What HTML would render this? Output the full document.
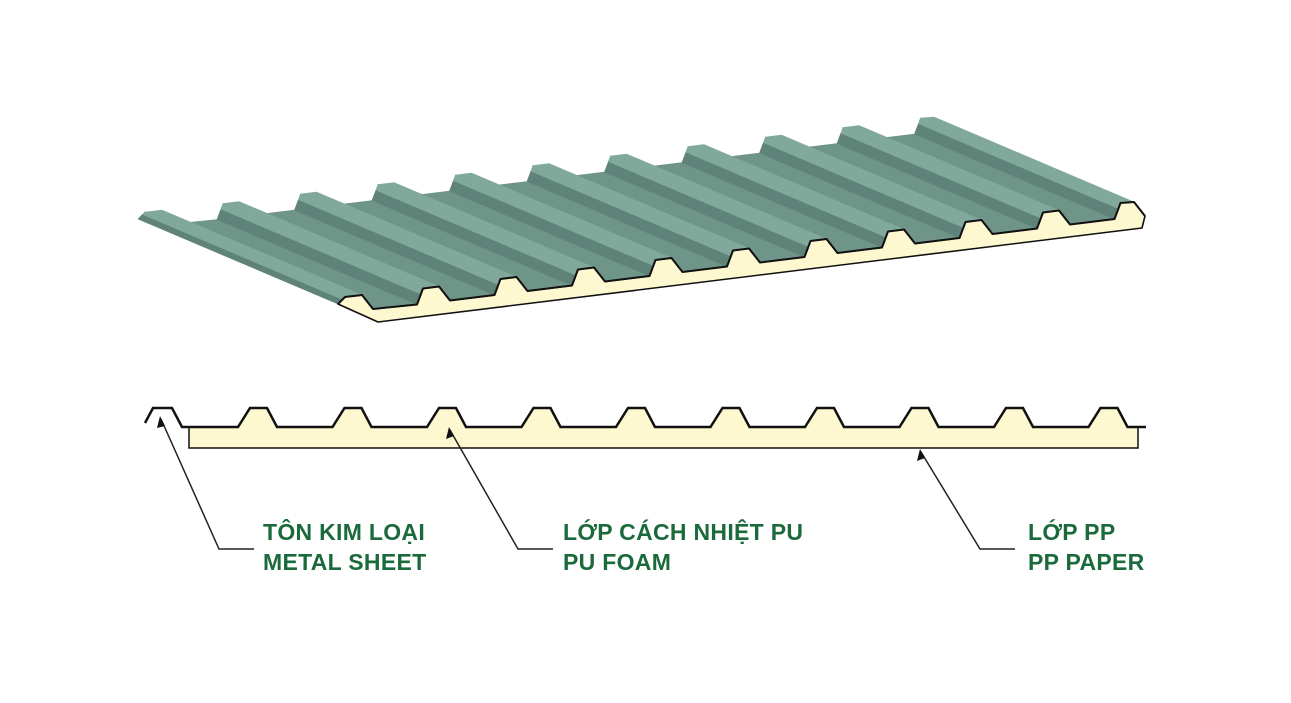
<!DOCTYPE html>
<html><head><meta charset="utf-8">
<style>
html,body{margin:0;padding:0;background:#fff;}
body{width:1291px;height:703px;position:relative;overflow:hidden;}
svg{position:absolute;left:0;top:0;}
.lbl{position:absolute;font-family:"Liberation Sans","DejaVu Sans",sans-serif;font-weight:bold;color:#1b6a3b;font-size:23px;line-height:30px;letter-spacing:0.3px;white-space:nowrap;}
</style></head>
<body>
<svg id="s" width="1291" height="703" viewBox="0 0 1291 703" xmlns="http://www.w3.org/2000/svg">
<g id="sheet"></g>
<polygon id="foam2" fill="#fdf8cf" stroke="#111" stroke-width="1.5" points=""/>
<polyline id="prof2" fill="none" stroke="#111" stroke-width="2.5" stroke-linejoin="miter" points=""/>
<g stroke="#222" stroke-width="1.5" fill="none">
<polyline points="161,419 219,549 254,549"/>
<polyline points="450,430 518,549 553,549"/>
<polyline points="921,452 980,549 1015,549"/>
</g>
<g fill="#111">
<polygon points="160,416 157,428 165,426"/>
<polygon points="449,427 446,439 454,436"/>
<polygon points="920,449 917,461 925,458"/>
</g>
</svg>
<div class="lbl" style="left:263px;top:517px;">TÔN KIM LOẠI<br>METAL SHEET</div>
<div class="lbl" style="left:563px;top:517px;">LỚP CÁCH NHIỆT PU<br>PU FOAM</div>
<div class="lbl" style="left:1028px;top:517px;">LỚP PP<br>PP PAPER</div>
<script>
(function(){
var NS="http://www.w3.org/2000/svg";
var g=document.getElementById("sheet");
var D=[200,85];
var LIGHT="#80a99b",DARK="#5f8379",MED="#6f9488",CREAM="#fdf8cf";
function quad(p,q,c){
  var e=document.createElementNS(NS,"polygon");
  var pts=[p,q,[q[0]-D[0],q[1]-D[1]],[p[0]-D[0],p[1]-D[1]]];
  e.setAttribute("points",pts.map(function(a){return a[0].toFixed(1)+","+a[1].toFixed(1)}).join(" "));
  e.setAttribute("fill",c);e.setAttribute("stroke",c);e.setAttribute("stroke-width","0.6");
  g.appendChild(e);
}
function lerp(a,b,t){return [a[0]+(b[0]-a[0])*t,a[1]+(b[1]-a[1])*t];}
var prof=[];var valleys=[];var ribs=[];
for(var k=0;k<=10;k++){
  var bx=339.5+77.5*k,by=314-9.5*k;
  var BL=[bx,by],TL=[bx+6,by-16],TR=[bx+22,by-18],BR=[bx+33,by-4];
  if(k==0){ BL=[338,304]; TL=[345,297];TR=[362,295];BR=[373,309]; }
  if(k==10){ TR=[1134,202]; BR=[1145,216]; }
  if(k>0){ valleys.push([prof[prof.length-1],BL,MED]); }
  prof.push(BL);
  var M=lerp(BL,TL,0.65);
  ribs.push([BL,M,DARK]);
  ribs.push([M,TL,LIGHT]);
  ribs.push([TL,TR,LIGHT]);
  prof.push(TL,TR,BR);
}
valleys.forEach(function(s){quad(s[0],s[1],s[2]);});
ribs.forEach(function(s){quad(s[0],s[1],s[2]);});
var foam=document.createElementNS(NS,"polygon");
var fp=prof.concat([[1142,228],[378,322]]);
foam.setAttribute("points",fp.map(function(a){return a[0]+","+a[1]}).join(" "));
foam.setAttribute("fill",CREAM);foam.setAttribute("stroke","#111");foam.setAttribute("stroke-width","1.6");foam.setAttribute("stroke-linejoin","round");
g.appendChild(foam);
var pl=document.createElementNS(NS,"polyline");
pl.setAttribute("points",prof.map(function(a){return a[0]+","+a[1]}).join(" "));
pl.setAttribute("fill","none");pl.setAttribute("stroke","#111");pl.setAttribute("stroke-width","2");pl.setAttribute("stroke-linejoin","round");
g.appendChild(pl);
var p2=[[145,423],[153,408],[172,408],[182,427]];
for(var i=0;i<10;i++){
  var x=238+94.5*i;
  p2.push([x,427],[x+12,408],[x+29,408],[x+39,427]);
}
p2.push([1146,427]);
document.getElementById("prof2").setAttribute("points",p2.map(function(a){return a[0].toFixed(1)+","+a[1]}).join(" "));
var f2=[[189,427]];
for(var i=0;i<10;i++){var x=238+94.5*i;f2.push([x,427],[x+12,408],[x+29,408],[x+39,427]);}
f2.push([1138,427],[1138,448],[189,448]);
document.getElementById("foam2").setAttribute("points",f2.map(function(a){return a[0].toFixed(1)+","+a[1]}).join(" "));
})();
</script>
</body></html>
